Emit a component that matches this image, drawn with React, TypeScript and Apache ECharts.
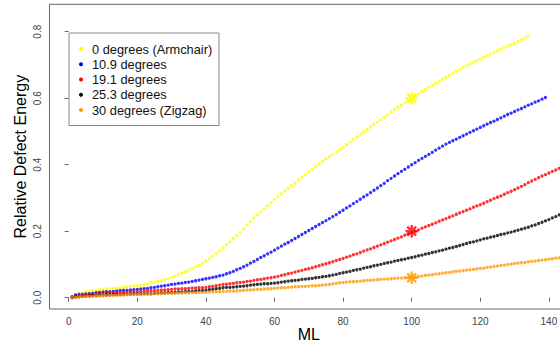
import React, { useEffect, useRef } from "react";
import * as echarts from "echarts";

// Series names
const seriesNames = [
  "0 degrees (Armchair)",
  "10.9 degrees",
  "19.1 degrees",
  "25.3 degrees",
  "30 degrees (Zigzag)",
];
const seriesColors = ["#FFFF00", "#0000FF", "#FF0000", "#000000", "#FF9900"];

// ML starts at 1, one value per ML step
const firstML = 1;

const armchair = [
  0.001, 0.010, 0.013, 0.016, 0.018, 0.019, 0.021, 0.022, 0.024, 0.025,
  0.026, 0.027, 0.028, 0.029, 0.030, 0.031, 0.033, 0.033, 0.035, 0.036,
  0.038, 0.040, 0.042, 0.045, 0.047, 0.050, 0.052, 0.055, 0.058, 0.062,
  0.065, 0.069, 0.074, 0.078, 0.083, 0.088, 0.093, 0.098, 0.104, 0.110,
  0.117, 0.125, 0.133, 0.141, 0.150, 0.159, 0.168, 0.178, 0.187, 0.197,
  0.208, 0.219, 0.229, 0.240, 0.250, 0.259, 0.268, 0.277, 0.286, 0.295,
  0.304, 0.312, 0.321, 0.329, 0.337, 0.345, 0.354, 0.362, 0.370, 0.378,
  0.386, 0.394, 0.402, 0.410, 0.418, 0.425, 0.431, 0.438, 0.445, 0.452,
  0.460, 0.468, 0.476, 0.484, 0.492, 0.499, 0.506, 0.514, 0.521, 0.528,
  0.535, 0.543, 0.550, 0.558, 0.565, 0.572, 0.579, 0.586, 0.593, 0.600,
  0.607, 0.613, 0.620, 0.626, 0.633, 0.639, 0.645, 0.650, 0.656, 0.662,
  0.668, 0.674, 0.680, 0.686, 0.692, 0.697, 0.703, 0.708, 0.713, 0.718,
  0.723, 0.728, 0.733, 0.737, 0.742, 0.747, 0.752, 0.757, 0.761, 0.766,
  0.771, 0.776, 0.781, 0.786,
];

const deg109 = [
  0.003, 0.008, 0.010, 0.010, 0.011, 0.012, 0.013, 0.015, 0.016, 0.017,
  0.018, 0.018, 0.019, 0.020, 0.021, 0.022, 0.022, 0.023, 0.024, 0.025,
  0.026, 0.027, 0.028, 0.030, 0.031, 0.033, 0.035, 0.036, 0.038, 0.040,
  0.041, 0.043, 0.044, 0.046, 0.047, 0.049, 0.051, 0.053, 0.055, 0.057,
  0.059, 0.061, 0.063, 0.066, 0.068, 0.072, 0.075, 0.079, 0.084, 0.088,
  0.093, 0.098, 0.104, 0.109, 0.115, 0.121, 0.126, 0.132, 0.137, 0.143,
  0.149, 0.155, 0.161, 0.166, 0.172, 0.178, 0.184, 0.190, 0.196, 0.202,
  0.208, 0.214, 0.220, 0.226, 0.232, 0.238, 0.244, 0.250, 0.257, 0.263,
  0.270, 0.276, 0.283, 0.289, 0.296, 0.303, 0.309, 0.316, 0.323, 0.330,
  0.337, 0.344, 0.352, 0.359, 0.366, 0.373, 0.380, 0.386, 0.393, 0.400,
  0.406, 0.413, 0.419, 0.425, 0.431, 0.437, 0.444, 0.450, 0.456, 0.462,
  0.467, 0.472, 0.477, 0.482, 0.487, 0.492, 0.497, 0.502, 0.507, 0.512,
  0.517, 0.522, 0.527, 0.531, 0.536, 0.541, 0.546, 0.551, 0.555, 0.560,
  0.565, 0.569, 0.574, 0.579, 0.583, 0.588, 0.592, 0.597, 0.602,
];

const deg191 = [
  0.000, 0.003, 0.005, 0.007, 0.008, 0.009, 0.010, 0.011, 0.012, 0.013,
  0.013, 0.014, 0.014, 0.015, 0.015, 0.016, 0.016, 0.017, 0.017, 0.018,
  0.019, 0.019, 0.020, 0.021, 0.021, 0.022, 0.023, 0.023, 0.024, 0.025,
  0.026, 0.026, 0.027, 0.027, 0.028, 0.029, 0.029, 0.030, 0.030, 0.031,
  0.033, 0.034, 0.036, 0.038, 0.040, 0.041, 0.042, 0.043, 0.045, 0.046,
  0.047, 0.049, 0.050, 0.052, 0.054, 0.055, 0.057, 0.059, 0.060, 0.062,
  0.064, 0.067, 0.069, 0.072, 0.074, 0.077, 0.080, 0.082, 0.085, 0.087,
  0.090, 0.093, 0.096, 0.099, 0.102, 0.105, 0.108, 0.112, 0.115, 0.118,
  0.122, 0.125, 0.129, 0.132, 0.136, 0.140, 0.144, 0.147, 0.151, 0.155,
  0.159, 0.163, 0.167, 0.171, 0.175, 0.179, 0.183, 0.188, 0.192, 0.196,
  0.200, 0.204, 0.209, 0.213, 0.217, 0.221, 0.225, 0.230, 0.234, 0.238,
  0.242, 0.246, 0.251, 0.255, 0.259, 0.263, 0.267, 0.272, 0.276, 0.280,
  0.284, 0.289, 0.293, 0.298, 0.302, 0.306, 0.311, 0.316, 0.320, 0.325,
  0.330, 0.335, 0.340, 0.346, 0.351, 0.356, 0.361, 0.366, 0.370, 0.375,
  0.380, 0.384, 0.389,
];

const deg253 = [
  0.000, 0.002, 0.003, 0.004, 0.004, 0.005, 0.006, 0.006, 0.007, 0.007,
  0.008, 0.008, 0.009, 0.009, 0.009, 0.010, 0.010, 0.010, 0.011, 0.011,
  0.011, 0.012, 0.012, 0.012, 0.013, 0.013, 0.014, 0.014, 0.015, 0.015,
  0.016, 0.017, 0.017, 0.018, 0.019, 0.019, 0.020, 0.021, 0.021, 0.022,
  0.024, 0.025, 0.027, 0.028, 0.030, 0.031, 0.031, 0.032, 0.033, 0.034,
  0.035, 0.036, 0.038, 0.039, 0.040, 0.041, 0.042, 0.042, 0.043, 0.044,
  0.045, 0.047, 0.048, 0.050, 0.051, 0.052, 0.053, 0.055, 0.056, 0.057,
  0.058, 0.060, 0.061, 0.063, 0.064, 0.066, 0.068, 0.070, 0.073, 0.075,
  0.077, 0.079, 0.082, 0.084, 0.086, 0.089, 0.091, 0.093, 0.096, 0.098,
  0.100, 0.103, 0.105, 0.107, 0.110, 0.112, 0.114, 0.116, 0.119, 0.121,
  0.123, 0.126, 0.128, 0.131, 0.133, 0.136, 0.138, 0.141, 0.143, 0.146,
  0.149, 0.151, 0.154, 0.157, 0.160, 0.163, 0.166, 0.168, 0.171, 0.174,
  0.177, 0.179, 0.182, 0.184, 0.187, 0.190, 0.192, 0.195, 0.197, 0.200,
  0.203, 0.206, 0.209, 0.212, 0.216, 0.219, 0.223, 0.227, 0.231, 0.235,
  0.240, 0.244, 0.249,
];

const zigzag = [
  0.000, 0.001, 0.002, 0.003, 0.003, 0.004, 0.004, 0.005, 0.005, 0.006,
  0.006, 0.007, 0.007, 0.007, 0.008, 0.008, 0.009, 0.009, 0.010, 0.010,
  0.010, 0.011, 0.011, 0.011, 0.012, 0.012, 0.012, 0.013, 0.013, 0.013,
  0.013, 0.014, 0.014, 0.015, 0.015, 0.015, 0.015, 0.016, 0.016, 0.016,
  0.017, 0.017, 0.018, 0.018, 0.019, 0.019, 0.020, 0.020, 0.021, 0.021,
  0.022, 0.023, 0.023, 0.024, 0.025, 0.025, 0.026, 0.027, 0.027, 0.028,
  0.029, 0.030, 0.030, 0.031, 0.032, 0.033, 0.033, 0.034, 0.034, 0.035,
  0.036, 0.036, 0.037, 0.038, 0.039, 0.040, 0.042, 0.043, 0.045, 0.046,
  0.047, 0.048, 0.048, 0.049, 0.050, 0.051, 0.052, 0.052, 0.053, 0.054,
  0.055, 0.056, 0.056, 0.057, 0.058, 0.059, 0.059, 0.060, 0.060, 0.061,
  0.062, 0.064, 0.065, 0.067, 0.068, 0.069, 0.071, 0.072, 0.074, 0.075,
  0.076, 0.078, 0.079, 0.080, 0.081, 0.083, 0.084, 0.085, 0.087, 0.088,
  0.089, 0.091, 0.092, 0.094, 0.095, 0.097, 0.098, 0.100, 0.101, 0.103,
  0.104, 0.105, 0.106, 0.108, 0.109, 0.110, 0.112, 0.113, 0.114, 0.116,
  0.117, 0.119, 0.120,
];

// Highlighted points (asterisks) at ML = 100
const starML = [100, 100, 100];
const starValues = [0.6, 0.2, 0.06];
const starColors = ["#FFFF00", "#FF0000", "#FF9900"];

const xTicks = [0, 20, 40, 60, 80, 100, 120, 140];
const yTicks = [0, 0.2, 0.4, 0.6, 0.8];

const allSeries = [armchair, deg109, deg191, deg253, zigzag];

const STAR_PATH =
  "path://M0,-6L0,6M-6,0L6,0M-4.3,-4.3L4.3,4.3M-4.3,4.3L4.3,-4.3";

export default function App() {
  const ref = useRef<HTMLDivElement>(null);

  useEffect(() => {
    document.body.style.margin = "0";
    if (!ref.current) return;
    const chart = echarts.init(ref.current, undefined, { renderer: "svg" });
    const font = "Liberation Sans";

    const scatterSeries = allSeries.map((vals, k) => ({
      name: seriesNames[k],
      type: "scatter",
      symbol: "circle",
      symbolSize: 3.3,
      itemStyle: { color: seriesColors[k] },
      data: vals.map((v, i) => [firstML + i, v]),
      z: 2,
    }));

    const starSeries = starML.map((x, k) => ({
      name: "star" + k,
      type: "scatter",
      symbol: STAR_PATH,
      symbolSize: 12.5,
      itemStyle: {
        color: "none",
        borderColor: starColors[k],
        borderWidth: 2.4,
      },
      data: [[x, starValues[k]]],
      z: 5,
    }));

    // Legend drawn as graphic elements (box, dots, labels)
    const legLeft = 68.5;
    const legTop = 32.5;
    const legW = 150;
    const legH = 92.5;
    const rowTop = 49;
    const rowStep = 15.25;
    const legendGraphics: any[] = [
      {
        type: "rect",
        left: legLeft,
        top: legTop,
        shape: { x: 0, y: 0, width: legW, height: legH },
        style: { fill: "#ffffff", stroke: "#888888", lineWidth: 1 },
        z: 10,
      },
    ];
    seriesNames.forEach((name, i) => {
      const cy = rowTop + rowStep * i;
      legendGraphics.push({
        type: "circle",
        shape: { cx: 81, cy, r: 2 },
        style: { fill: seriesColors[i] },
        z: 11,
      });
      legendGraphics.push({
        type: "text",
        x: 92,
        y: cy,
        style: {
          text: name,
          fontFamily: font,
          fontSize: 12.8,
          fill: "#111111",
          verticalAlign: "middle",
          align: "left",
        },
        z: 11,
      });
    });

    chart.setOption({
      animation: false,
      backgroundColor: "#ffffff",
      textStyle: { fontFamily: font },
      grid: {
        left: 49.5,
        top: 4.3,
        width: 518.6,
        height: 304.7,
        outerBoundsMode: "none",
        containLabel: false,
        show: true,
        borderColor: "#666666",
        borderWidth: 1,
        backgroundColor: "transparent",
      },
      graphic: legendGraphics,
      xAxis: {
        type: "value",
        min: -5.6,
        max: 145.6,
        name: "ML",
        nameLocation: "middle",
        nameGap: 17,
        nameMoveOverlap: false,
        nameTextStyle: {
          fontFamily: font,
          fontSize: 16,
          lineHeight: 16,
          color: "#000000",
        },
        axisLine: { show: false },
        splitLine: { show: false },
        axisTick: {
          show: true,
          length: 4,
          customValues: xTicks,
          lineStyle: { color: "#666666" },
        },
        axisLabel: {
          customValues: xTicks,
          margin: 7,
          fontSize: 10,
          fontFamily: font,
          color: "#444444",
        },
      },
      yAxis: {
        type: "value",
        min: -0.034,
        max: 0.8824,
        name: "Relative Defect Energy",
        nameLocation: "middle",
        nameGap: 21,
        nameMoveOverlap: false,
        nameTextStyle: {
          fontFamily: font,
          fontSize: 16,
          lineHeight: 16,
          color: "#000000",
        },
        axisLine: { show: false },
        splitLine: { show: false },
        axisTick: {
          show: true,
          length: 4,
          customValues: yTicks,
          lineStyle: { color: "#666666" },
        },
        axisLabel: {
          customValues: yTicks,
          rotate: 90,
          margin: 7,
          fontSize: 10,
          fontFamily: font,
          color: "#444444",
          formatter: (v: number) => v.toFixed(1),
        },
      },
      series: [...scatterSeries, ...starSeries],
    });

    return () => chart.dispose();
  }, []);

  return (
    <div
      ref={ref}
      style={{ position: "absolute", left: 0, top: 0, width: 560, height: 344 }}
    />
  );
}
